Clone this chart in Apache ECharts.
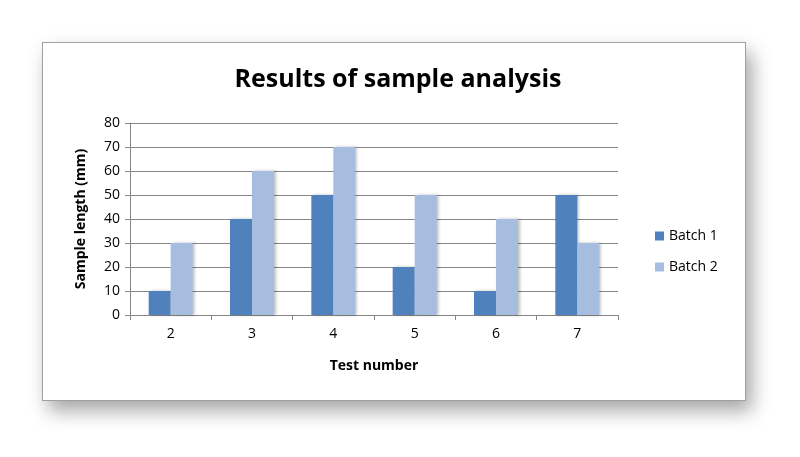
<!DOCTYPE html>
<html>
<head>
<meta charset="utf-8">
<script src="https://cdn.jsdelivr.net/npm/echarts@6/dist/echarts.min.js"></script>
<style>
body{margin:0;background:#fff;}
#frame{position:absolute;left:42px;top:42px;width:702px;height:357px;border:1px solid #a0a0a0;box-shadow:6px 10px 18px rgba(0,0,0,0.35);background:#fff;}
#main{position:absolute;left:0;top:0;width:800px;height:457px;}
</style>
</head>
<body>
<div id="frame"></div>
<div id="main"></div>
<script>
var categories = ['2', '3', '4', '5', '6', '7'];
var batch1 = [10, 40, 50, 20, 10, 50];
var batch2 = [30, 60, 70, 50, 40, 30];

var chart = echarts.init(document.getElementById('main'));
var font = 'Open Sans';
chart.setOption({
  animation: false,
  textStyle: {fontFamily: font},
  title: {
    text: 'Results of sample analysis', left: 393, top: 62, textAlign: 'center',
    textStyle: {fontSize: 25, fontWeight: 'bold', color: '#000', fontFamily: font}
  },
  legend: {
    orient: 'vertical', left: 650, top: 224, itemGap: 17,
    itemWidth: 9, itemHeight: 9, icon: 'rect',
    textStyle: {fontSize: 14, color: '#000'},
    data: ['Batch 1', 'Batch 2']
  },
  grid: {left: 130, right: 182, top: 123, bottom: 142},
  xAxis: {
    type: 'category', data: categories,
    name: 'Test number', nameLocation: 'middle', nameGap: 44,
    nameTextStyle: {fontSize: 14, fontWeight: 'bold', color: '#000'},
    axisLine: {lineStyle: {color: '#868686'}},
    axisTick: {show: true, length: 5, lineStyle: {color: '#868686'}},
    axisLabel: {fontSize: 14, color: '#000', margin: 12}
  },
  yAxis: {
    type: 'value', min: 0, max: 80, interval: 10,
    name: 'Sample length (mm)', nameLocation: 'middle', nameGap: 42,
    nameTextStyle: {fontSize: 14, fontWeight: 'bold', color: '#000'},
    axisLine: {show: true, lineStyle: {color: '#868686'}},
    axisTick: {show: true, length: 5, inside: false, lineStyle: {color: '#868686'}},
    axisLabel: {fontSize: 14, color: '#000', margin: 10},
    splitLine: {lineStyle: {color: '#868686'}}
  },
  series: [
    {name: 'Batch 1', type: 'bar', data: batch1, barWidth: 22, barGap: '0%',
     itemStyle: {color: '#4f81bd', shadowColor: 'rgba(0,0,0,0.25)', shadowBlur: 3, shadowOffsetX: 2}},
    {name: 'Batch 2', type: 'bar', data: batch2, barWidth: 22,
     itemStyle: {color: '#a7bde0', shadowColor: 'rgba(0,0,0,0.25)', shadowBlur: 3, shadowOffsetX: 2}}
  ]
});
</script>
</body>
</html>
